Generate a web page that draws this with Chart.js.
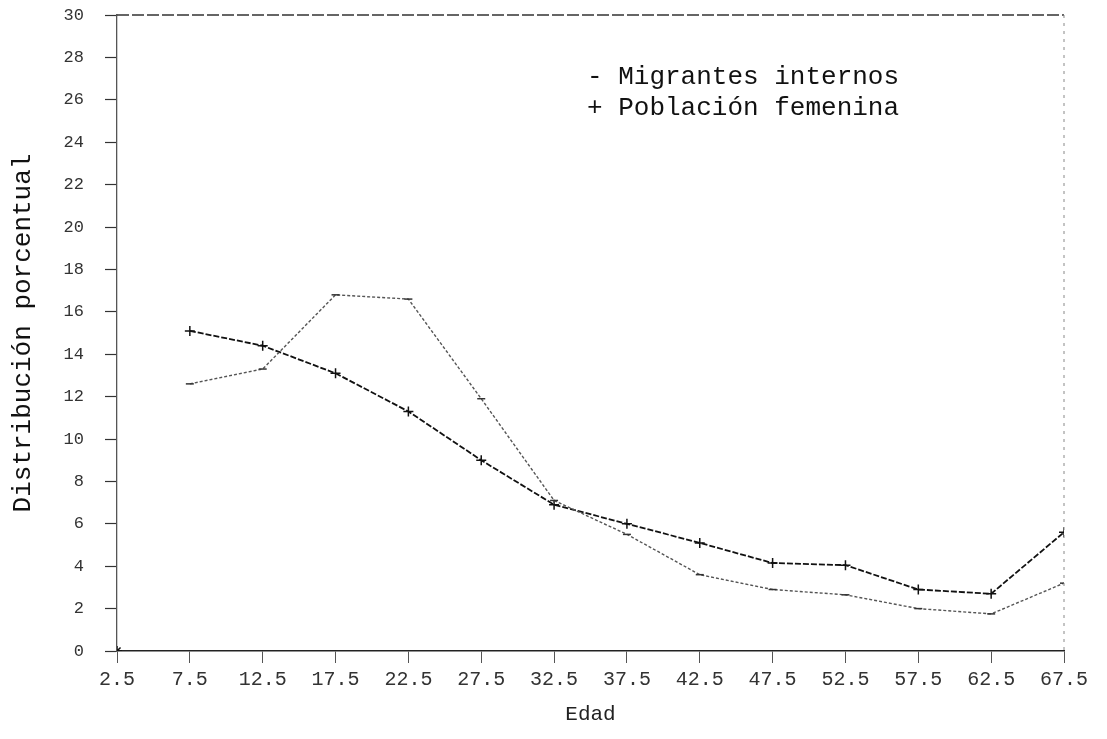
<!DOCTYPE html>
<html>
<head>
<meta charset="utf-8">
<script src="https://cdn.jsdelivr.net/npm/chart.js@4/dist/chart.umd.min.js"></script>
<style>
  html, body { margin: 0; padding: 0; background: #fff; }
  #wrap { width: 1107px; height: 739px; }
</style>
</head>
<body>
<div id="wrap"><canvas id="c" width="1107" height="739"></canvas></div>
<script>
// ---- data ----
const ages = [7.5, 12.5, 17.5, 22.5, 27.5, 32.5, 37.5, 42.5, 47.5, 52.5, 57.5, 62.5, 67.5];
const migrantesInternos = [12.6, 13.3, 16.8, 16.6, 11.9, 7.1, 5.5, 3.6, 2.9, 2.65, 2.0, 1.75, 3.2];
const poblacionFemenina = [15.1, 14.4, 13.1, 11.3, 9.0, 6.9, 6.0, 5.1, 4.15, 4.05, 2.9, 2.7, 5.6];
const originX = [2.5];
const originY = [0];
const xTickValues = [2.5, 7.5, 12.5, 17.5, 22.5, 27.5, 32.5, 37.5, 42.5, 47.5, 52.5, 57.5, 62.5, 67.5];
const xTickLabels = ["2.5", "7.5", "12.5", "17.5", "22.5", "27.5", "32.5", "37.5", "42.5", "47.5", "52.5", "57.5", "62.5", "67.5"];
const yTickLabels = ["0", "2", "4", "6", "8", "10", "12", "14", "16", "18", "20", "22", "24", "26", "28", "30"];
const legendLines = ["- Migrantes internos", "+ Población femenina"];
const xTitle = "Edad";
const yTitle = "Distribución porcentual";

const toPoints = (xs, ys) => xs.map((x, i) => ({ x: x, y: ys[i] }));

const framePlugin = {
  id: 'frame',
  afterDraw(chart) {
    const { ctx, chartArea: a } = chart;
    ctx.save();
    // top border (dashed)
    ctx.strokeStyle = '#333';
    ctx.lineWidth = 1.3;
    ctx.setLineDash([12, 3]);
    ctx.beginPath();
    ctx.moveTo(a.left, a.top);
    ctx.lineTo(a.right, a.top);
    ctx.stroke();
    // right border (dotted, light)
    ctx.strokeStyle = '#888';
    ctx.lineWidth = 1;
    ctx.setLineDash([3, 5]);
    ctx.beginPath();
    ctx.moveTo(a.right, a.top);
    ctx.lineTo(a.right, a.bottom);
    ctx.stroke();
    ctx.setLineDash([]);
    // legend text inside plot
    ctx.fillStyle = '#111';
    ctx.font = '26px "Liberation Mono", monospace';
    ctx.textAlign = 'left';
    ctx.textBaseline = 'middle';
    const lx = a.left + 470;
    legendLines.forEach((t, i) => ctx.fillText(t, lx, a.top + 62 + i * 31));
    ctx.restore();
  }
};

new Chart(document.getElementById('c'), {
  type: 'line',
  data: {
    datasets: [
      {
        label: 'Migrantes internos',
        data: toPoints(ages, migrantesInternos),
        borderColor: '#555',
        borderWidth: 1.4,
        borderDash: [3, 2],
        pointStyle: 'line',
        pointRadius: 4,
        pointBorderColor: '#333',
        pointBorderWidth: 1.5,
        fill: false,
        tension: 0
      },
      {
        label: 'Población femenina',
        data: toPoints(ages, poblacionFemenina),
        borderColor: '#111',
        borderWidth: 1.8,
        borderDash: [6, 2],
        pointStyle: 'cross',
        pointRadius: 5,
        pointBorderColor: '#111',
        pointBorderWidth: 1.5,
        fill: false,
        tension: 0
      },
      {
        label: 'origen',
        data: toPoints(originX, originY),
        showLine: false,
        pointStyle: 'star',
        pointRadius: 5,
        pointBorderColor: '#111',
        pointBorderWidth: 1.5
      }
    ]
  },
  options: {
    responsive: false,
    animation: false,
    devicePixelRatio: 1,
    layout: { padding: { left: 0, top: 15, right: 43, bottom: 0 } },
    plugins: {
      legend: { display: false },
      tooltip: { enabled: false }
    },
    scales: {
      x: {
        type: 'linear',
        min: 2.5,
        max: 67.5,
        afterBuildTicks: (axis) => { axis.ticks = xTickValues.map(v => ({ value: v })); },
        afterFit: (s) => { s.height = 88; },
        ticks: {
          autoSkip: false,
          maxRotation: 0,
          padding: 5,
          color: '#333',
          font: { family: '"Liberation Mono", monospace', size: 20 },
          callback: (v) => { const i = xTickValues.indexOf(v); return i >= 0 ? xTickLabels[i] : ''; }
        },
        grid: { drawOnChartArea: false, tickLength: 12, color: '#555', tickWidth: 1 },
        border: { display: true, color: '#222', width: 1.6 },
        title: {
          display: true,
          text: xTitle,
          color: '#222',
          font: { family: '"Liberation Mono", monospace', size: 21 },
          padding: { top: 0, bottom: 12 }
        }
      },
      y: {
        min: 0,
        max: 30,
        afterBuildTicks: (axis) => { axis.ticks = yTickLabels.map(t => ({ value: Number(t) })); },
        afterFit: (s) => { s.width = 117; s.paddingTop = 0; s.paddingBottom = 0; },
        ticks: {
          padding: 21,
          color: '#333',
          font: { family: '"Liberation Mono", monospace', size: 17 },
          callback: (v) => { const i = yTickLabels.indexOf(String(v)); return i >= 0 ? yTickLabels[i] : ''; }
        },
        grid: { drawOnChartArea: false, tickLength: 12, color: '#333', tickWidth: 1.2 },
        border: { display: true, color: '#555', width: 1.3, dash: [6, 2] },
        title: {
          display: true,
          text: yTitle,
          color: '#111',
          font: { family: '"Liberation Mono", monospace', size: 26 },
          padding: { top: 8, bottom: 0 }
        }
      }
    }
  },
  plugins: [framePlugin]
});
</script>
</body>
</html>
